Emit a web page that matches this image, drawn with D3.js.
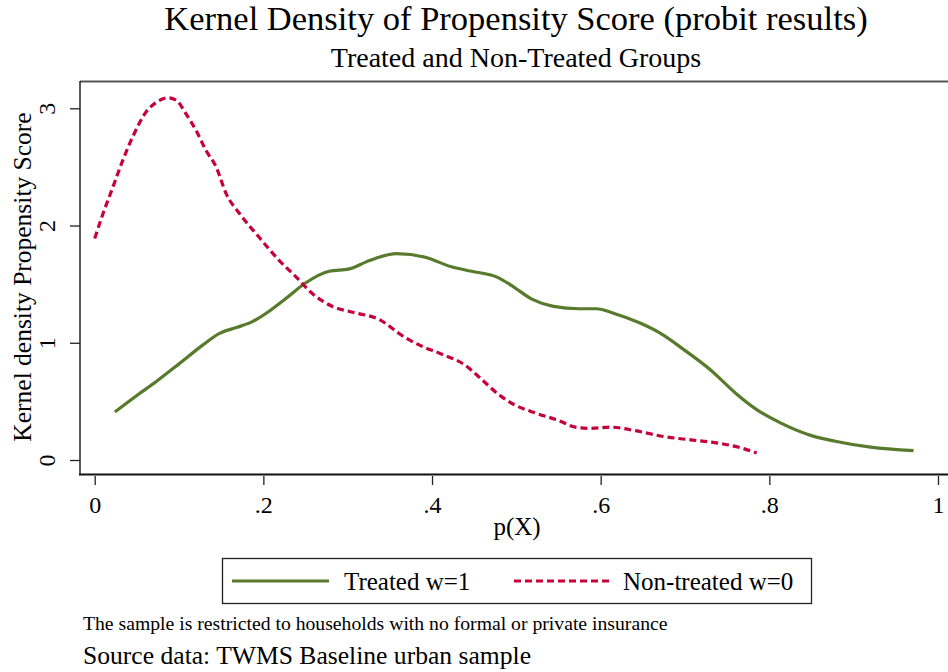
<!DOCTYPE html>
<html>
<head>
<meta charset="utf-8">
<script src="https://cdn.jsdelivr.net/npm/d3@7"></script>
<style>
  body { margin: 0; background: #fff; }
  svg { display: block; font-family: "Liberation Serif", "Times New Roman", serif; }
</style>
</head>
<body>
<svg id="chart"></svg>
<script>
// kernel density estimates
var treatedX = [0.024, 0.05, 0.075, 0.10, 0.128, 0.148, 0.168, 0.187, 0.203, 0.227, 0.25, 0.278, 0.302, 0.322, 0.337,
  0.358, 0.392, 0.422, 0.447, 0.477, 0.494, 0.519, 0.544, 0.574, 0.595, 0.616, 0.646, 0.671, 0.697, 0.730,
  0.760, 0.785, 0.815, 0.849, 0.878, 0.920, 0.971];
var treatedY = [0.41, 0.55, 0.68, 0.82, 0.98, 1.08, 1.13, 1.18, 1.25, 1.38, 1.51, 1.61, 1.63, 1.69, 1.73,
  1.76, 1.73, 1.65, 1.61, 1.56, 1.49, 1.37, 1.31, 1.29, 1.29, 1.25, 1.17, 1.08, 0.95, 0.77,
  0.57, 0.43, 0.31, 0.21, 0.16, 0.11, 0.08];

var nonTreatedX = [0.0, 0.0098, 0.0217, 0.0335, 0.0453, 0.0611, 0.073, 0.0868, 0.0966, 0.1085, 0.1203, 0.132,
  0.144, 0.156, 0.172, 0.195, 0.219, 0.239, 0.258, 0.282, 0.306, 0.337, 0.367, 0.388, 0.409, 0.439,
  0.460, 0.477, 0.498, 0.523, 0.549, 0.570, 0.587, 0.612, 0.641, 0.675, 0.709, 0.743, 0.768, 0.785];
var nonTreatedY = [1.89, 2.10, 2.33, 2.56, 2.76, 2.97, 3.05, 3.09, 3.07, 2.95, 2.81, 2.64,
  2.50, 2.27, 2.10, 1.90, 1.70, 1.56, 1.42, 1.31, 1.26, 1.20, 1.05, 0.97, 0.91, 0.81,
  0.68, 0.57, 0.47, 0.40, 0.34, 0.28, 0.27, 0.28, 0.25, 0.20, 0.17, 0.14, 0.10, 0.06];

var xTicks = [0, 0.2, 0.4, 0.6, 0.8, 1];
var yTicks = [0, 1, 2, 3];
var legendLabels = ['Treated w=1', 'Non-treated w=0'];

var width = 948, height = 672;
var green = '#587a2c', red = '#c5003a';

var svg = d3.select('#chart').attr('width', width).attr('height', height);

var x = d3.scaleLinear().domain([0, 1]).range([94.7, 938]);
var y = d3.scaleLinear().domain([0, 3]).range([460, 108.3]);

// plot region frame
svg.append('line').attr('x1', 80).attr('x2', width).attr('y1', 81.5).attr('y2', 81.5)
  .attr('stroke', '#555').attr('stroke-width', 2);
svg.append('line').attr('x1', 80).attr('x2', 80).attr('y1', 81).attr('y2', 475)
  .attr('stroke', '#222').attr('stroke-width', 1.5);
svg.append('line').attr('x1', 79).attr('x2', width).attr('y1', 474.5).attr('y2', 474.5)
  .attr('stroke', '#111').attr('stroke-width', 2.2);

function fmt(d) {
  if (d === 0 || d === 1) return String(d);
  return String(d).replace(/^0/, '');
}

var xAxis = svg.append('g').attr('transform', 'translate(0,476)')
  .call(d3.axisBottom(x).tickValues(xTicks).tickFormat(fmt).tickSize(9).tickSizeOuter(0));
xAxis.select('.domain').remove();
xAxis.selectAll('line').attr('stroke', '#222').attr('stroke-width', 1.3);
xAxis.selectAll('text').attr('y', 37).attr('dy', 0).attr('fill', '#000')
  .style('font-size', '24px').style('font-family', '"Liberation Serif", serif');

var yAxis = svg.append('g').attr('transform', 'translate(80,0)')
  .call(d3.axisLeft(y).tickValues(yTicks).tickFormat(d3.format('d')).tickSize(10).tickSizeOuter(0));
yAxis.select('.domain').remove();
yAxis.selectAll('line').attr('stroke', '#222').attr('stroke-width', 1.3);
yAxis.selectAll('text').attr('x', 0).attr('dy', 0).attr('fill', '#000')
  .attr('text-anchor', 'middle')
  .attr('transform', 'translate(-25,0) rotate(-90)')
  .style('font-size', '24px').style('font-family', '"Liberation Serif", serif');

// titles
svg.append('text').attr('x', 516).attr('y', 30).attr('text-anchor', 'middle')
  .style('font-size', '34.5px').text('Kernel Density of Propensity Score (probit results)');
svg.append('text').attr('x', 516).attr('y', 67).attr('text-anchor', 'middle')
  .style('font-size', '28px').text('Treated and Non-Treated Groups');
svg.append('text').attr('transform', 'translate(31,277) rotate(-90)').attr('text-anchor', 'middle')
  .style('font-size', '25.5px').text('Kernel density Propensity Score');
svg.append('text').attr('x', 517).attr('y', 535).attr('text-anchor', 'middle')
  .style('font-size', '25px').text('p(X)');

// curves
var line = d3.line()
  .x(function(d) { return x(d[0]); })
  .y(function(d) { return y(d[1]); })
  .curve(d3.curveMonotoneX);

svg.append('path').datum(d3.zip(treatedX, treatedY))
  .attr('d', line).attr('fill', 'none').attr('stroke', green).attr('stroke-width', 3.2);
svg.append('path').datum(d3.zip(nonTreatedX, nonTreatedY))
  .attr('d', line).attr('fill', 'none').attr('stroke', red).attr('stroke-width', 3.2)
  .attr('stroke-dasharray', '7,4');

// legend
var legend = svg.append('g');
legend.append('rect').attr('x', 222.5).attr('y', 558.5).attr('width', 589).attr('height', 45)
  .attr('fill', '#fff').attr('stroke', '#222').attr('stroke-width', 1.3);
var items = [
  {label: legendLabels[0], color: green, dash: null, x0: 232, tx: 344},
  {label: legendLabels[1], color: red, dash: '7,4', x0: 514, tx: 623}
];
items.forEach(function(it) {
  legend.append('line').attr('x1', it.x0).attr('x2', it.x0 + 97).attr('y1', 581).attr('y2', 581)
    .attr('stroke', it.color).attr('stroke-width', 3.2).attr('stroke-dasharray', it.dash);
  legend.append('text').attr('x', it.tx).attr('y', 590).style('font-size', '25px').text(it.label);
});

// notes
svg.append('text').attr('x', 83).attr('y', 630).style('font-size', '19.7px')
  .text('The sample is restricted to households with no formal or private insurance');
svg.append('text').attr('x', 83).attr('y', 664).style('font-size', '25.6px')
  .text('Source data: TWMS Baseline urban sample');
</script>
</body>
</html>
